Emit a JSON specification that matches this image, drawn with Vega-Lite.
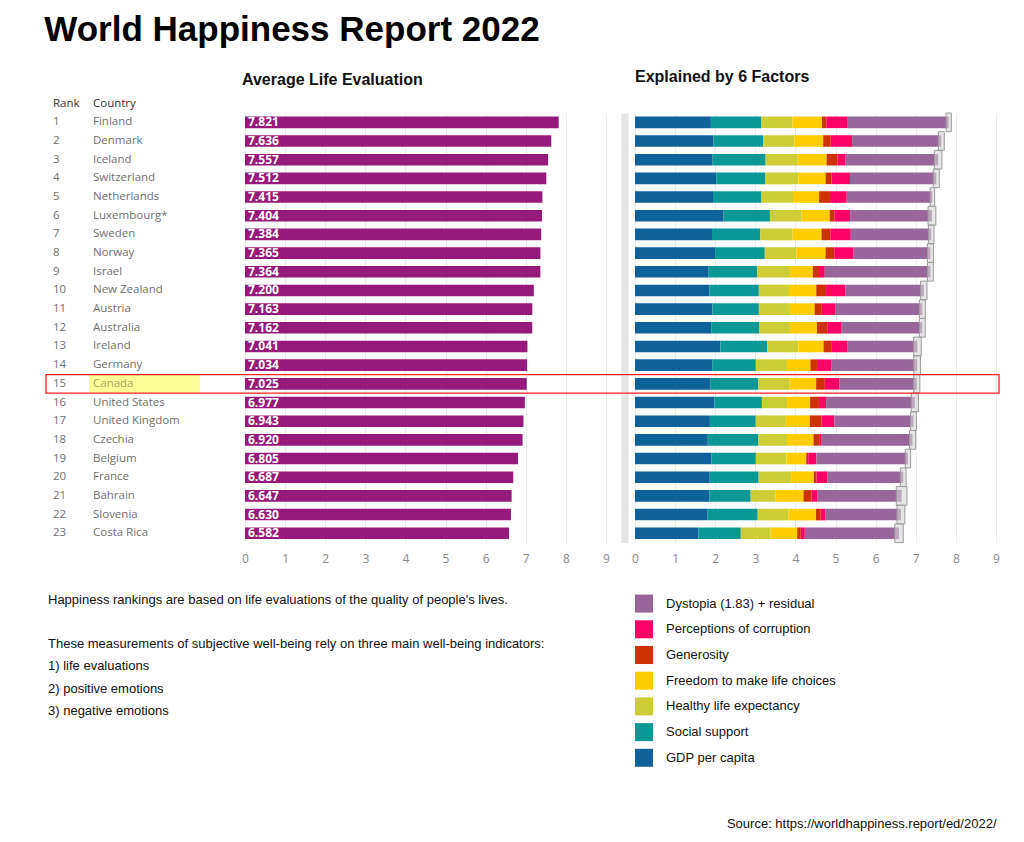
{
  "$schema": "https://vega.github.io/schema/vega-lite/v6.json",
  "background": "white",
  "padding": {"left": 44, "top": 12, "right": 20, "bottom": 5},
  "title": {"text": "World Happiness Report 2022", "anchor": "start", "font": "Liberation Sans", "fontSize": 35, "fontWeight": "bold", "color": "#000000", "dx": -1, "offset": -7, "baseline": "alphabetic"},
  "config": {"view": {"stroke": null}, "font": "Open Sans"},
  "datasets": {
    "rows": [
      {"rank": 1, "country": "Finland", "score": 7.821, "lo": 7.756, "hi": 7.886, "gdp": 1.892, "social": 1.258, "health": 0.775, "freedom": 0.736, "generosity": 0.109, "corruption": 0.534, "dystopia": 2.517},
      {"rank": 2, "country": "Denmark", "score": 7.636, "lo": 7.563, "hi": 7.710, "gdp": 1.953, "social": 1.243, "health": 0.777, "freedom": 0.719, "generosity": 0.188, "corruption": 0.532, "dystopia": 2.224},
      {"rank": 3, "country": "Iceland", "score": 7.557, "lo": 7.464, "hi": 7.651, "gdp": 1.936, "social": 1.320, "health": 0.803, "freedom": 0.718, "generosity": 0.270, "corruption": 0.191, "dystopia": 2.319},
      {"rank": 4, "country": "Switzerland", "score": 7.512, "lo": 7.437, "hi": 7.586, "gdp": 2.026, "social": 1.226, "health": 0.822, "freedom": 0.677, "generosity": 0.147, "corruption": 0.461, "dystopia": 2.153},
      {"rank": 5, "country": "Netherlands", "score": 7.415, "lo": 7.359, "hi": 7.471, "gdp": 1.945, "social": 1.206, "health": 0.787, "freedom": 0.651, "generosity": 0.271, "corruption": 0.419, "dystopia": 2.136},
      {"rank": 6, "country": "Luxembourg*", "score": 7.404, "lo": 7.307, "hi": 7.501, "gdp": 2.209, "social": 1.155, "health": 0.790, "freedom": 0.700, "generosity": 0.120, "corruption": 0.388, "dystopia": 2.042},
      {"rank": 7, "country": "Sweden", "score": 7.384, "lo": 7.315, "hi": 7.454, "gdp": 1.920, "social": 1.204, "health": 0.803, "freedom": 0.724, "generosity": 0.218, "corruption": 0.512, "dystopia": 2.003},
      {"rank": 8, "country": "Norway", "score": 7.365, "lo": 7.290, "hi": 7.440, "gdp": 1.997, "social": 1.239, "health": 0.786, "freedom": 0.728, "generosity": 0.217, "corruption": 0.474, "dystopia": 1.924},
      {"rank": 9, "country": "Israel", "score": 7.364, "lo": 7.290, "hi": 7.438, "gdp": 1.826, "social": 1.221, "health": 0.818, "freedom": 0.568, "generosity": 0.155, "corruption": 0.143, "dystopia": 2.633},
      {"rank": 10, "country": "New Zealand", "score": 7.200, "lo": 7.120, "hi": 7.279, "gdp": 1.852, "social": 1.235, "health": 0.752, "freedom": 0.680, "generosity": 0.245, "corruption": 0.483, "dystopia": 1.953},
      {"rank": 11, "country": "Austria", "score": 7.163, "lo": 7.089, "hi": 7.237, "gdp": 1.931, "social": 1.157, "health": 0.774, "freedom": 0.616, "generosity": 0.180, "corruption": 0.330, "dystopia": 2.175},
      {"rank": 12, "country": "Australia", "score": 7.162, "lo": 7.087, "hi": 7.236, "gdp": 1.900, "social": 1.203, "health": 0.760, "freedom": 0.674, "generosity": 0.255, "corruption": 0.345, "dystopia": 2.025},
      {"rank": 13, "country": "Ireland", "score": 7.041, "lo": 6.947, "hi": 7.135, "gdp": 2.129, "social": 1.166, "health": 0.779, "freedom": 0.627, "generosity": 0.190, "corruption": 0.408, "dystopia": 1.742},
      {"rank": 14, "country": "Germany", "score": 7.034, "lo": 6.951, "hi": 7.117, "gdp": 1.924, "social": 1.088, "health": 0.776, "freedom": 0.585, "generosity": 0.163, "corruption": 0.358, "dystopia": 2.140},
      {"rank": 15, "country": "Canada", "score": 7.025, "lo": 6.948, "hi": 7.102, "gdp": 1.886, "social": 1.188, "health": 0.783, "freedom": 0.659, "generosity": 0.217, "corruption": 0.368, "dystopia": 1.924},
      {"rank": 16, "country": "United States", "score": 6.977, "lo": 6.888, "hi": 7.065, "gdp": 1.982, "social": 1.182, "health": 0.628, "freedom": 0.574, "generosity": 0.220, "corruption": 0.177, "dystopia": 2.214},
      {"rank": 17, "country": "United Kingdom", "score": 6.943, "lo": 6.870, "hi": 7.015, "gdp": 1.867, "social": 1.143, "health": 0.750, "freedom": 0.597, "generosity": 0.289, "corruption": 0.329, "dystopia": 1.968},
      {"rank": 18, "country": "Czechia", "score": 6.920, "lo": 6.843, "hi": 6.997, "gdp": 1.815, "social": 1.260, "health": 0.715, "freedom": 0.660, "generosity": 0.158, "corruption": 0.048, "dystopia": 2.264},
      {"rank": 19, "country": "Belgium", "score": 6.805, "lo": 6.739, "hi": 6.872, "gdp": 1.907, "social": 1.106, "health": 0.764, "freedom": 0.492, "generosity": 0.049, "corruption": 0.204, "dystopia": 2.283},
      {"rank": 20, "country": "France", "score": 6.687, "lo": 6.615, "hi": 6.758, "gdp": 1.863, "social": 1.219, "health": 0.808, "freedom": 0.567, "generosity": 0.070, "corruption": 0.266, "dystopia": 1.894},
      {"rank": 21, "country": "Bahrain", "score": 6.647, "lo": 6.514, "hi": 6.779, "gdp": 1.854, "social": 1.029, "health": 0.625, "freedom": 0.693, "generosity": 0.199, "corruption": 0.155, "dystopia": 2.092},
      {"rank": 22, "country": "Slovenia", "score": 6.630, "lo": 6.532, "hi": 6.728, "gdp": 1.810, "social": 1.249, "health": 0.769, "freedom": 0.685, "generosity": 0.118, "corruption": 0.115, "dystopia": 1.884},
      {"rank": 23, "country": "Costa Rica", "score": 6.582, "lo": 6.477, "hi": 6.687, "gdp": 1.584, "social": 1.054, "health": 0.744, "freedom": 0.661, "generosity": 0.089, "corruption": 0.102, "dystopia": 2.348}
    ],
    "notes": [
      {"line": "Happiness rankings are based on life evaluations of the quality of people's lives."},
      {"line": " "},
      {"line": "These measurements of subjective well-being rely on three main well-being indicators:"},
      {"line": "1) life evaluations"},
      {"line": "2) positive emotions"},
      {"line": "3) negative emotions"}
    ]
  },
  "concat": [
    {
      "width": 14,
      "height": 429.6,
      "data": {"name": "rows"},
      "title": {"text": "Rank", "anchor": "start", "frame": "group", "dx": 7, "font": "Open Sans", "fontSize": 11.5, "fontWeight": "normal", "color": "#333333", "offset": -5.3, "baseline": "alphabetic"},
      "mark": {"type": "text", "align": "left", "baseline": "middle", "dx": 7, "font": "Open Sans", "fontSize": 11.5, "color": "#707070"},
      "encoding": {
        "y": {"field": "rank", "type": "ordinal", "axis": null, "scale": {"paddingInner": 0.38, "paddingOuter": 0.19}},
        "x": {"datum": "Rank", "type": "nominal", "bandPosition": 0, "axis": null, "scale": {"type": "band", "paddingInner": 0, "paddingOuter": 0}},
        "text": {"field": "rank", "type": "ordinal"}
      }
    },
    {
      "width": 127,
      "height": 429.6,
      "data": {"name": "rows"},
      "title": {"text": "Country", "anchor": "start", "frame": "group", "dx": 4, "font": "Open Sans", "fontSize": 11.5, "fontWeight": "normal", "color": "#333333", "offset": -5.3, "baseline": "alphabetic"},
      "encoding": {
        "y": {"field": "rank", "type": "ordinal", "axis": null, "scale": {"paddingInner": 0.38, "paddingOuter": 0.19}}
      },
      "layer": [
        {
          "transform": [{"filter": "datum.country == 'Canada'"}],
          "mark": {"type": "bar", "color": "#ffff99", "height": {"band": 1.55}},
          "encoding": {
            "x": {"datum": "Country", "type": "nominal", "axis": null, "scale": {"type": "band", "paddingInner": 0, "paddingOuter": 0.0721, "align": 0}}
          }
        },
        {
          "mark": {"type": "text", "align": "left", "baseline": "middle", "dx": 4, "font": "Open Sans", "fontSize": 11.5},
          "encoding": {
            "x": {"datum": "Country", "type": "nominal", "bandPosition": 0, "axis": null, "scale": {"type": "band", "paddingInner": 0, "paddingOuter": 0.0721, "align": 0}},
            "text": {"field": "country", "type": "nominal"},
            "color": {"condition": {"test": "datum.country == 'Canada'", "value": "#a9a35a"}, "value": "#707070"}
          }
        }
      ]
    },
    {
      "width": 361,
      "height": 429.6,
      "data": {"name": "rows"},
      "title": {"text": "Average Life Evaluation", "anchor": "start", "frame": "group", "dx": -3, "font": "Liberation Sans", "fontSize": 16, "fontWeight": "bold", "color": "#111111", "offset": 11.9, "baseline": "alphabetic"},
      "encoding": {
        "y": {"field": "rank", "type": "ordinal", "axis": null, "scale": {"paddingInner": 0.38, "paddingOuter": 0.19}}
      },
      "layer": [
        {
          "mark": {"type": "bar", "color": "#96197c"},
          "encoding": {
            "x": {"field": "score", "type": "quantitative", "scale": {"domain": [0, 9], "nice": false},
              "axis": {"values": [0, 1, 2, 3, 4, 5, 6, 7, 8, 9], "title": null, "grid": true, "gridColor": "#ececec", "ticks": false, "domain": false, "labelColor": "#8a8a8a", "labelFontSize": 12, "labelFont": "Open Sans", "labelPadding": 11, "labelFlush": false}}
          }
        },
        {
          "mark": {"type": "text", "align": "left", "baseline": "middle", "dx": 3, "color": "white", "font": "Open Sans", "fontWeight": "bold", "fontSize": 12},
          "encoding": {
            "x": {"datum": 0, "type": "quantitative", "scale": {"domain": [0, 9], "nice": false},
              "axis": {"values": [0, 1, 2, 3, 4, 5, 6, 7, 8, 9], "title": null, "grid": true, "gridColor": "#ececec", "ticks": false, "domain": false, "labelColor": "#8a8a8a", "labelFontSize": 12, "labelFont": "Open Sans", "labelPadding": 11, "labelFlush": false}},
            "text": {"field": "score", "type": "quantitative", "format": ".3f"}
          }
        }
      ]
    },
    {
      "width": 361,
      "height": 429.6,
      "data": {"name": "rows"},
      "title": {"text": "Explained by 6 Factors", "anchor": "start", "frame": "group", "dx": 0, "font": "Liberation Sans", "fontSize": 16, "fontWeight": "bold", "color": "#111111", "offset": 14.9, "baseline": "alphabetic"},
      "encoding": {
        "y": {"field": "rank", "type": "ordinal", "scale": {"paddingInner": 0.38, "paddingOuter": 0.19},
          "axis": {"orient": "left", "labels": false, "ticks": false, "title": null, "grid": false, "domain": true, "domainColor": "#e4e4e4", "domainWidth": 7, "offset": 10.5}}
      },
      "layer": [
        {
          "transform": [
            {"fold": ["gdp", "social", "health", "freedom", "generosity", "corruption", "dystopia"], "as": ["factor", "value"]},
            {"calculate": "indexof(['gdp','social','health','freedom','generosity','corruption','dystopia'], datum.factor)", "as": "ord"}
          ],
          "mark": {"type": "bar"},
          "encoding": {
            "x": {"field": "value", "type": "quantitative", "stack": "zero", "scale": {"domain": [0, 9], "nice": false},
              "axis": {"values": [0, 1, 2, 3, 4, 5, 6, 7, 8, 9], "title": "Source: https://worldhappiness.report/ed/2022/", "titleAnchor": "end", "titleAlign": "right", "titleFont": "Liberation Sans", "titleFontSize": 13, "titleFontWeight": "normal", "titleColor": "#111111", "titlePadding": 253, "grid": true, "gridColor": "#ececec", "ticks": false, "domain": false, "labelColor": "#8a8a8a", "labelFontSize": 12, "labelFont": "Open Sans", "labelPadding": 11, "labelFlush": false}},
            "color": {
              "field": "factor", "type": "nominal",
              "scale": {"domain": ["gdp", "social", "health", "freedom", "generosity", "corruption", "dystopia"], "range": ["#0e6199", "#0a9896", "#cdcd36", "#ffcc00", "#cc3300", "#ff0066", "#996699"]},
              "legend": {
                "orient": "none", "legendX": 0, "legendY": 481.6, "title": null, "padding": 0,
                "values": ["dystopia", "corruption", "generosity", "freedom", "health", "social", "gdp"],
                "labelExpr": "datum.label == 'gdp' ? 'GDP per capita' : datum.label == 'social' ? 'Social support' : datum.label == 'health' ? 'Healthy life expectancy' : datum.label == 'freedom' ? 'Freedom to make life choices' : datum.label == 'generosity' ? 'Generosity' : datum.label == 'corruption' ? 'Perceptions of corruption' : 'Dystopia (1.83) + residual'",
                "symbolType": "square", "symbolSize": 324, "symbolStrokeWidth": 0, "symbolOpacity": 1,
                "labelFont": "Liberation Sans", "labelFontSize": 13, "labelColor": "#111111", "labelOffset": 13, "labelLimit": 300,
                "rowPadding": 7.7
              }
            },
            "order": {"field": "ord", "type": "quantitative"}
          }
        },
        {
          "mark": {"type": "bar", "fill": "#d6d6d6", "fillOpacity": 0.6, "stroke": "#9a9a9a", "strokeWidth": 1, "height": {"band": 1.613}},
          "encoding": {
            "x": {"field": "lo", "type": "quantitative", "scale": {"domain": [0, 9], "nice": false},
              "axis": {"values": [0, 1, 2, 3, 4, 5, 6, 7, 8, 9], "title": "Source: https://worldhappiness.report/ed/2022/", "titleAnchor": "end", "titleAlign": "right", "titleFont": "Liberation Sans", "titleFontSize": 13, "titleFontWeight": "normal", "titleColor": "#111111", "titlePadding": 253, "grid": true, "gridColor": "#ececec", "ticks": false, "domain": false, "labelColor": "#8a8a8a", "labelFontSize": 12, "labelFont": "Open Sans", "labelPadding": 11, "labelFlush": false}},
            "x2": {"field": "hi"}
          }
        },
        {
          "transform": [{"filter": "datum.country == 'Canada'"}],
          "mark": {"type": "bar", "filled": false, "stroke": "#ff2020", "strokeWidth": 1.3, "height": {"band": 1.6}, "clip": false},
          "encoding": {
            "x": {"datum": -14.685, "type": "quantitative", "scale": {"domain": [0, 9], "nice": false},
              "axis": {"values": [0, 1, 2, 3, 4, 5, 6, 7, 8, 9], "title": "Source: https://worldhappiness.report/ed/2022/", "titleAnchor": "end", "titleAlign": "right", "titleFont": "Liberation Sans", "titleFontSize": 13, "titleFontWeight": "normal", "titleColor": "#111111", "titlePadding": 253, "grid": true, "gridColor": "#ececec", "ticks": false, "domain": false, "labelColor": "#8a8a8a", "labelFontSize": 12, "labelFont": "Open Sans", "labelPadding": 11, "labelFlush": false}},
            "x2": {"datum": 9.075}
          }
        }
      ]
    },
    {
      "width": 14,
      "height": 133.2,
      "data": {"name": "notes"},
      "mark": {"type": "text", "align": "left", "baseline": "middle", "dx": 2, "font": "Liberation Sans", "fontSize": 13, "color": "#111111"},
      "encoding": {
        "y": {"field": "line", "type": "nominal", "sort": null, "axis": null, "scale": {"paddingInner": 0, "paddingOuter": 0}},
        "x": {"datum": "notes", "type": "nominal", "bandPosition": 0, "axis": null, "scale": {"type": "band", "paddingInner": 0, "paddingOuter": 0}},
        "text": {"field": "line", "type": "nominal"}
      }
    }
  ],
  "columns": 4,
  "spacing": {"row": 45.6, "column": 29},
  "bounds": "flush",
  "resolve": {"scale": {"color": "independent"}, "legend": {"color": "independent"}}
}
